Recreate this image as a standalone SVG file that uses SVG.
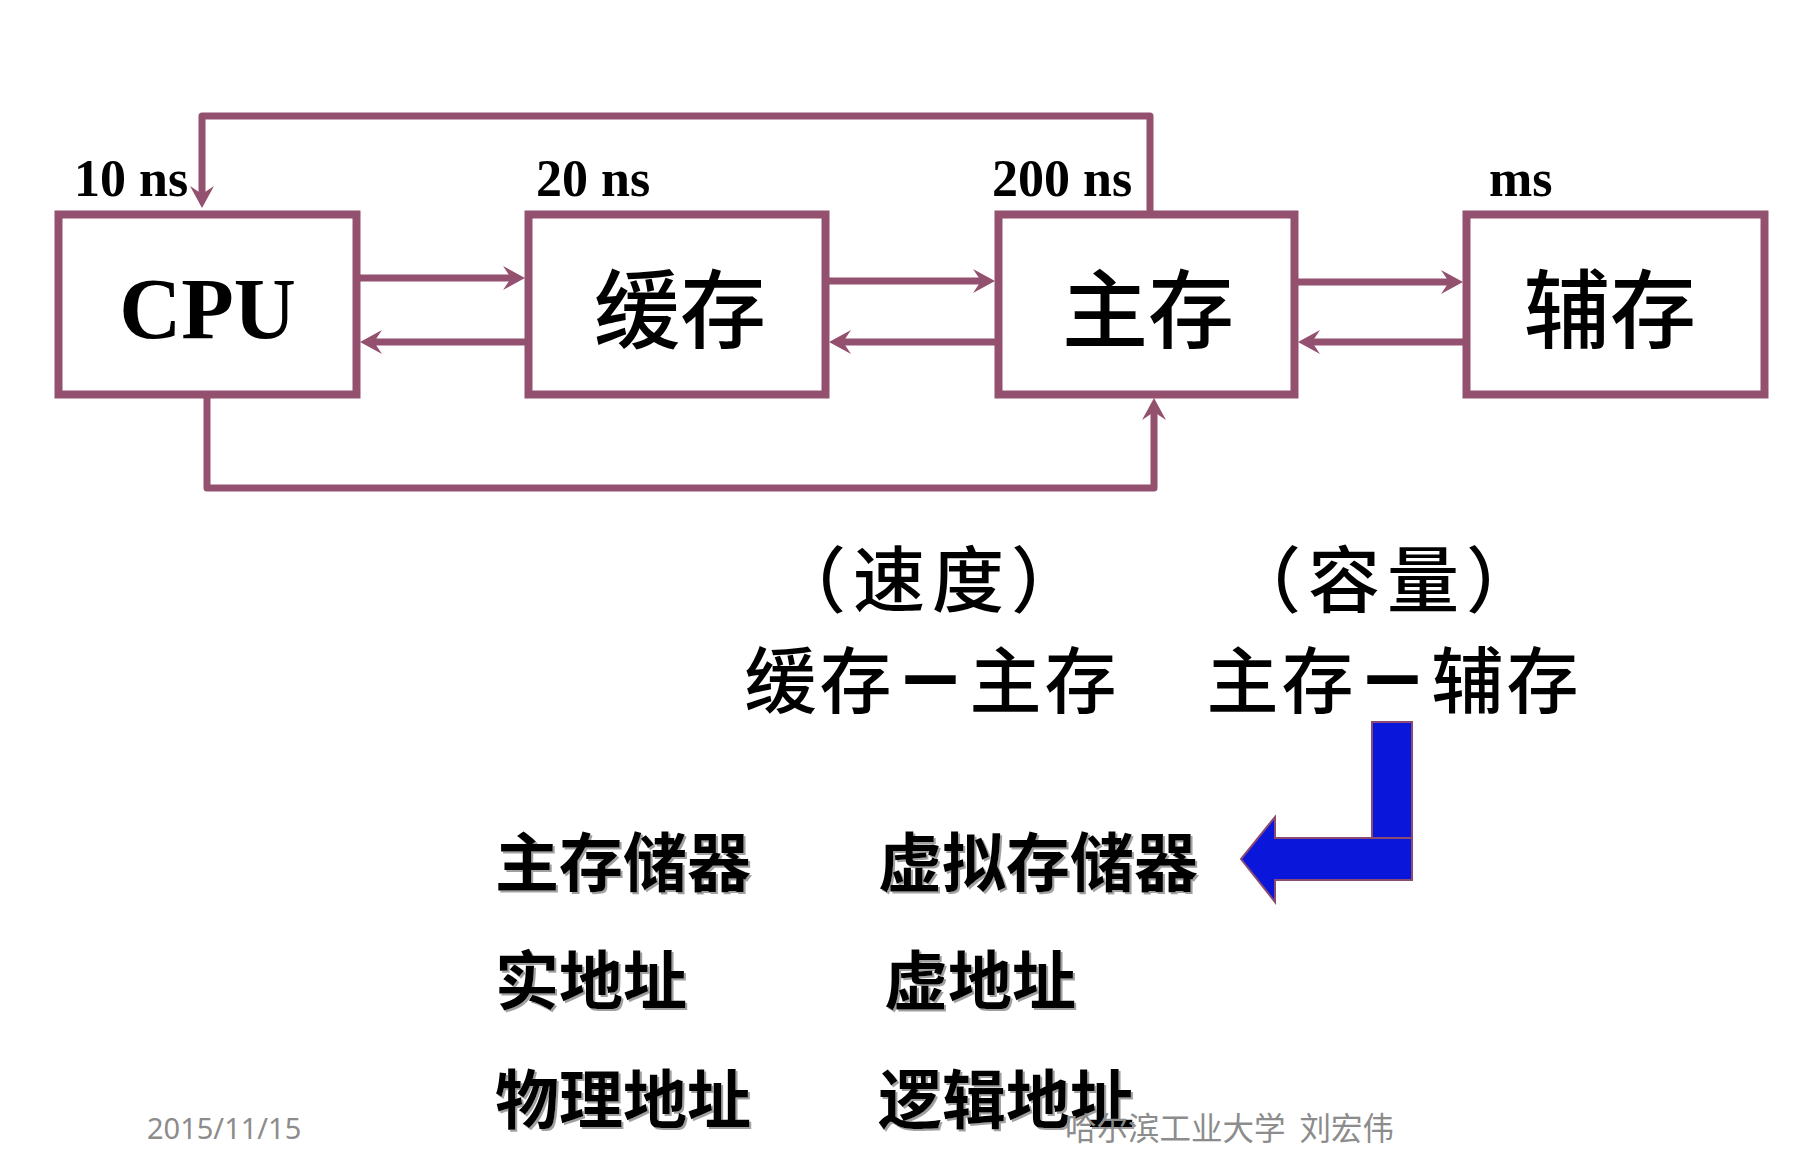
<svg xmlns="http://www.w3.org/2000/svg" width="1800" height="1160" viewBox="0 0 1800 1160">
<style>
.box{fill:#fff;stroke:#94506f;stroke-width:8}
.con{fill:none;stroke:#94506f;stroke-width:7;stroke-linejoin:round}
.lat{font-family:"Liberation Serif","Times New Roman",serif;font-weight:bold;fill:#000}
.cjk{font-family:"Noto Sans CJK SC","Noto Sans CJK TC",sans-serif;fill:#000}
.big{font-size:86px;font-weight:500;text-anchor:middle}
.mid{font-size:72px;font-weight:500;text-anchor:middle;letter-spacing:3px}
.dash{font-weight:900}
.low{font-size:64px;font-weight:bold;filter:url(#sh)}
.gray{fill:#8c8c8c}
</style>
<defs>
<marker id="ah" viewBox="-26 -14 28 28" markerWidth="28" markerHeight="28" refX="-12" refY="0" orient="auto" markerUnits="userSpaceOnUse">
<path d="M0,0 L-22,-12 L-14,0 L-22,12 Z" fill="#94506f"/>
</marker>
<filter id="sh" x="-5%" y="-10%" width="110%" height="130%">
<feDropShadow dx="2" dy="2" stdDeviation="0.5" flood-color="#888" flood-opacity="0.8"/>
</filter>
</defs>
<rect width="1800" height="1160" fill="#fff"/>
<g id="connectors">
<path class="con" d="M1150,214 V116 H202 V196" marker-end="url(#ah)"/>
<path class="con" d="M207,398 V488 H1154 V410" marker-end="url(#ah)"/>
<path class="con" d="M360,278 H513" marker-end="url(#ah)"/>
<path class="con" d="M525,342 H372" marker-end="url(#ah)"/>
<path class="con" d="M829,281 H983" marker-end="url(#ah)"/>
<path class="con" d="M995,342 H841" marker-end="url(#ah)"/>
<path class="con" d="M1298,282 H1451" marker-end="url(#ah)"/>
<path class="con" d="M1463,342 H1310" marker-end="url(#ah)"/>
</g>
<g id="cpu">
<rect class="box" x="58.5" y="214.5" width="298" height="180"/>
<text class="lat" x="207.5" y="338" font-size="86" text-anchor="middle">CPU</text>
<text class="lat" x="74" y="196" font-size="52">10 ns</text>
</g>
<g id="cache">
<rect class="box" x="528.5" y="214.5" width="297" height="180"/>
<text class="cjk big" x="680" y="342">缓存</text>
<text class="lat" x="536" y="196" font-size="52">20 ns</text>
</g>
<g id="main">
<rect class="box" x="998.5" y="214.5" width="296" height="180"/>
<text class="cjk big" x="1148" y="342">主存</text>
<text class="lat" x="992" y="196" font-size="52">200 ns</text>
</g>
<g id="aux">
<rect class="box" x="1466.5" y="214.5" width="298" height="180"/>
<text class="cjk big" x="1610" y="342">辅存</text>
<text class="lat" x="1489" y="196" font-size="52">ms</text>
</g>
<g id="middle">
<text class="cjk mid" x="932" y="606" style="letter-spacing:7px">（速度）</text>
<text class="cjk mid" x="1387" y="606" style="letter-spacing:7px">（容量）</text>
<text class="cjk mid" x="932" y="707">缓存<tspan class="dash">－</tspan>主存</text>
<text class="cjk mid" x="1394" y="707">主存<tspan class="dash">－</tspan>辅存</text>
</g>
<g id="bluearrow">
<rect x="1372" y="722" width="40" height="116" fill="#0a17db" stroke="#8a4a72" stroke-width="2"/>
<path d="M1412,838 V880 H1275 V902 L1241,859 L1275,817 V838 Z" fill="#0a17db" stroke="#8a4a72" stroke-width="2"/>
</g>
<g id="lower">
<text class="cjk low" x="495" y="886">主存储器</text>
<text class="cjk low" x="878" y="886">虚拟存储器</text>
<text class="cjk low" x="495" y="1004">实地址</text>
<text class="cjk low" x="884" y="1004">虚地址</text>
<text class="cjk low" x="495" y="1123">物理地址</text>
<text class="cjk low" x="878" y="1123">逻辑地址</text>
</g>
<g id="footer">
<text x="147" y="1139" font-family="Noto Sans, sans-serif" font-size="29" class="gray">2015/11/15</text>
<text class="cjk gray" x="1065" y="1140" font-size="31.5" xml:space="preserve">哈尔滨工业大学  刘宏伟</text>
</g>
</svg>
